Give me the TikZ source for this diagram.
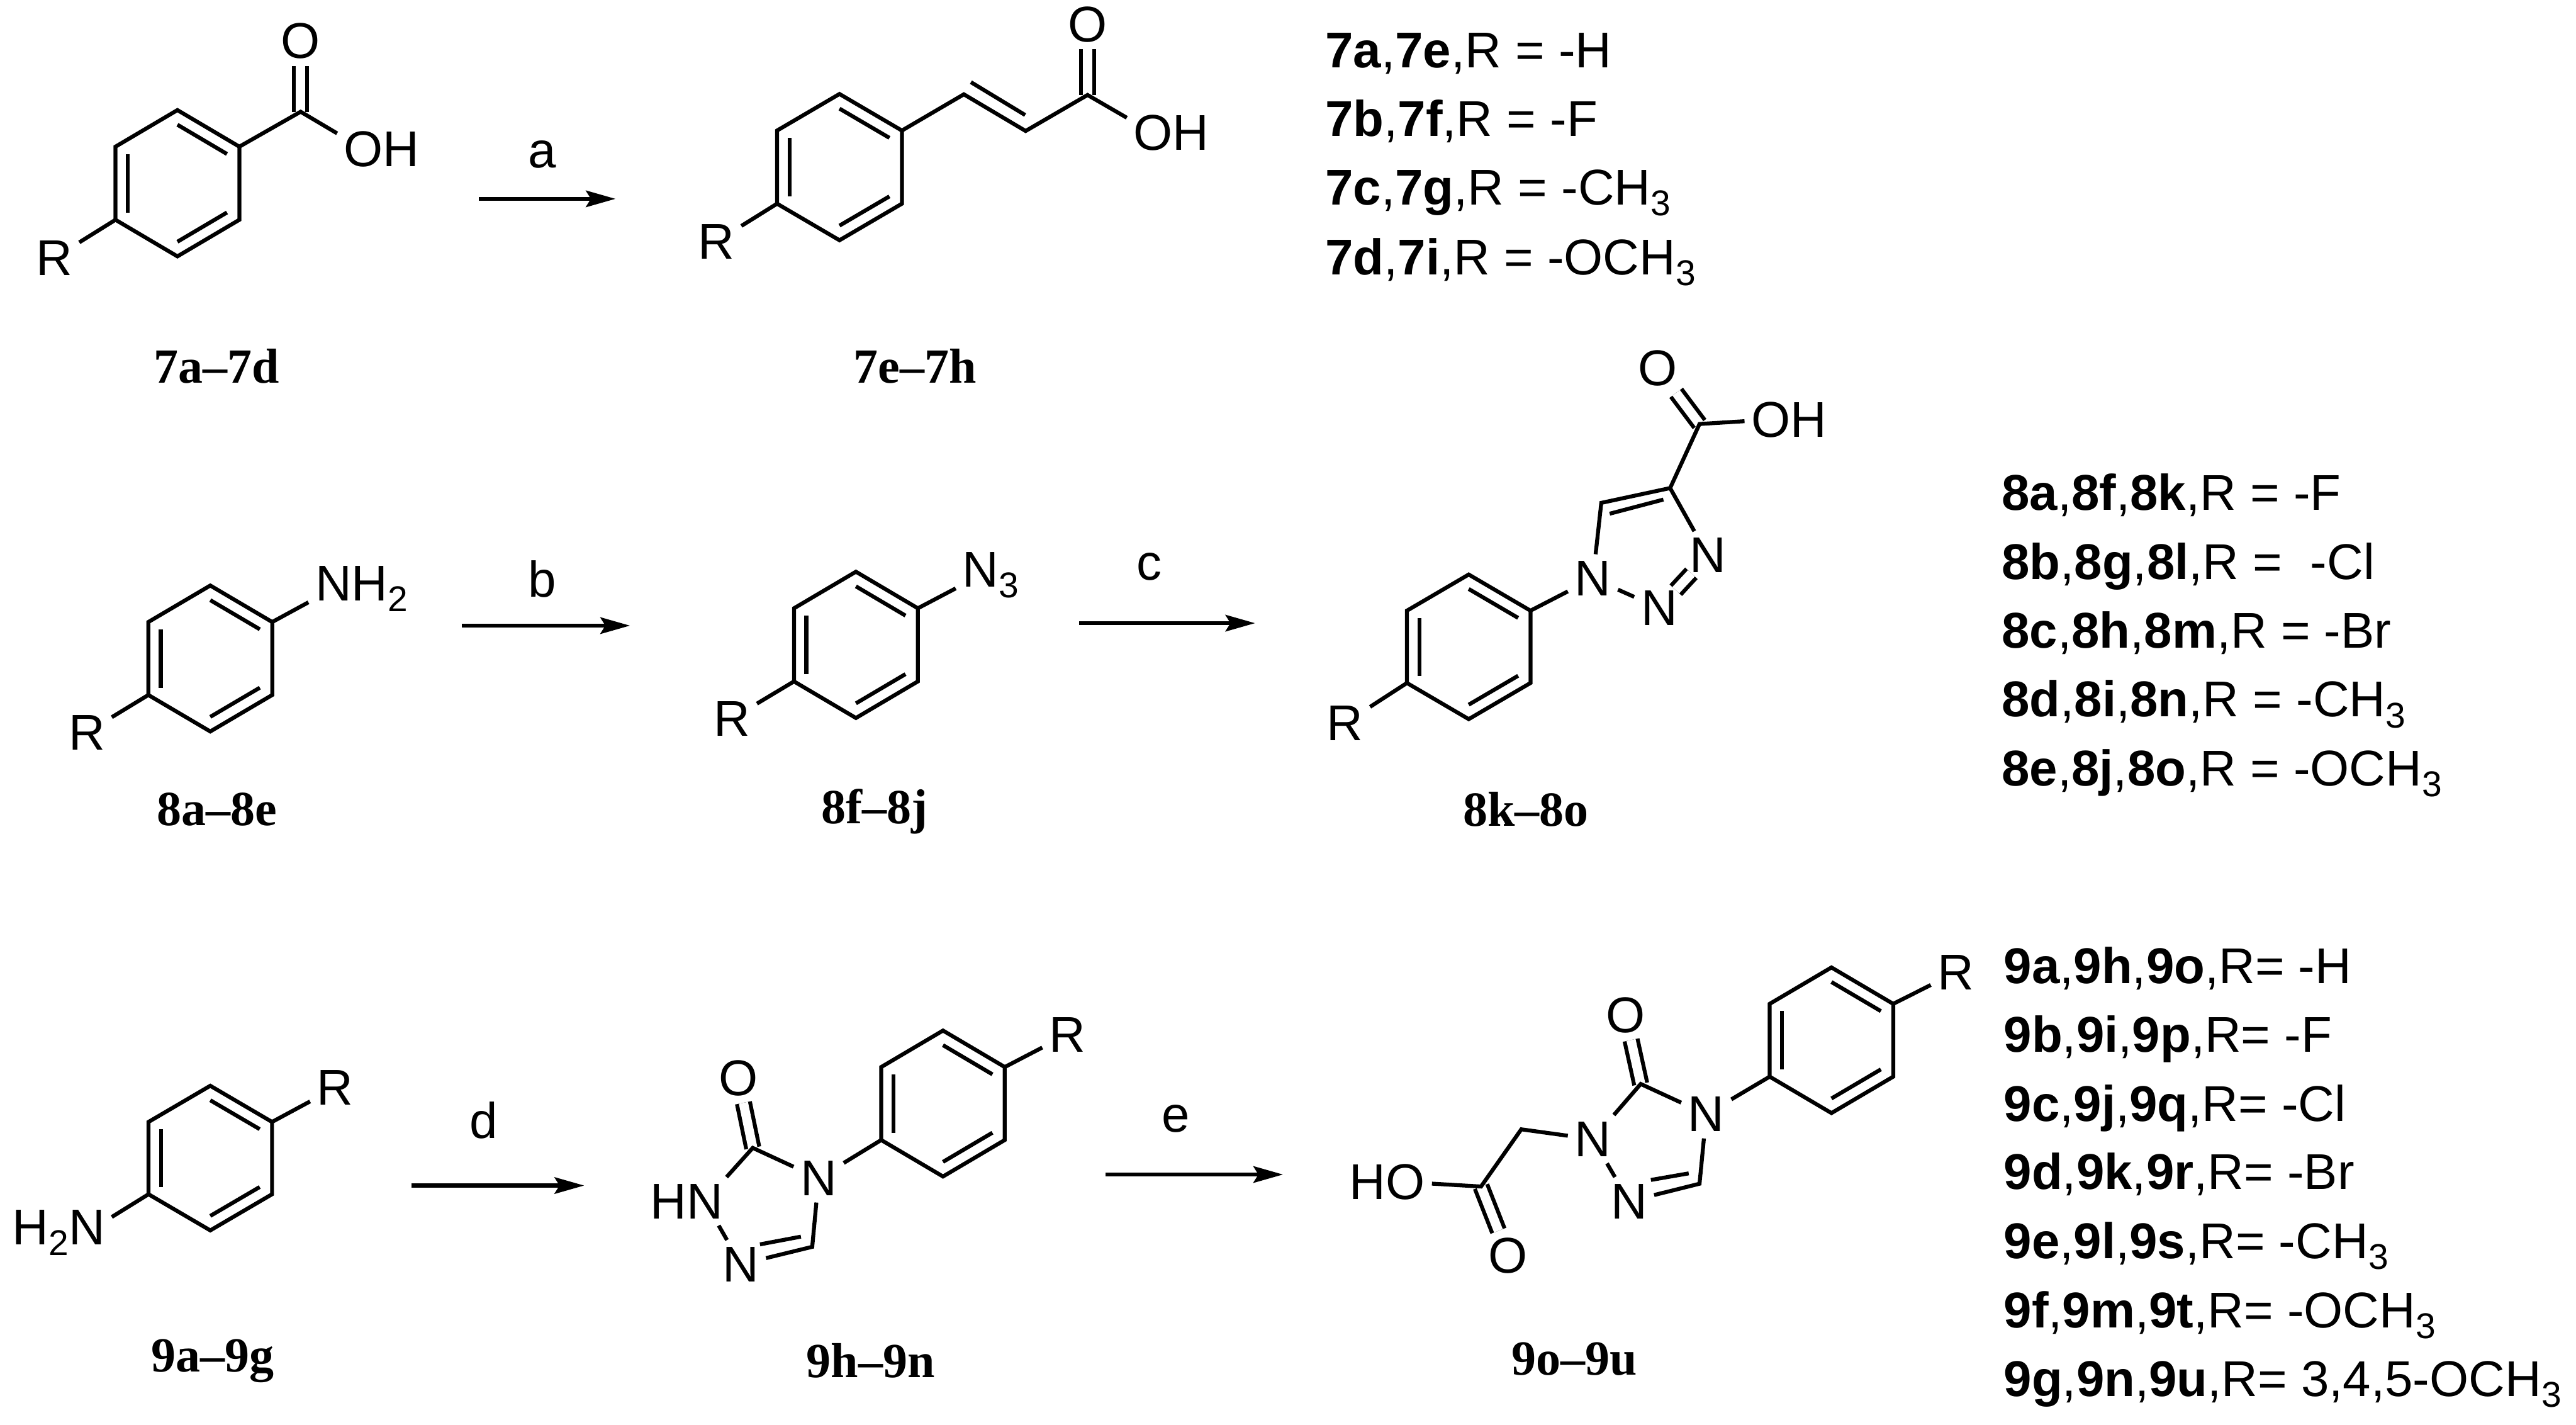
\documentclass[tikz,border=0pt]{standalone}
\usepackage{fontspec}
\setmainfont{Liberation Sans}
\newfontfamily\cmpdfont{Liberation Serif}
\usetikzlibrary{arrows.meta,calc,positioning}
\newcommand{\sbs}[1]{\raisebox{-0.066cm}{\fontsize{6.2}{7}\selectfont #1}}
\begin{document}
\begin{tikzpicture}[x=0.01cm, y=-0.01cm]
    \tikzstyle{every node}=[font=\fontsize{8.7}{10}\selectfont]
    \tikzstyle{atom} = [inner sep=1pt]
    \tikzstyle{bond} = [line width=0.68pt]
    \tikzstyle{dbl} = [line width=0.68pt, double, double distance=1.6pt]
    \tikzstyle{rxn} = [line width=0.68pt, -{Stealth[length=0.18cm, width=0.1cm, inset=0.03cm]}]
    \tikzstyle{cmpd} = [inner sep=0pt, font=\cmpdfont\bfseries\fontsize{8.5}{10}\selectfont]
    \tikzstyle{subst} = [inner sep=0pt, anchor=base west]
    \useasboundingbox (0,0) rectangle (1568,867);

    \foreach \nm/\cx/\cy/\rw/\rh in {7a/108/111.5/37.7/44.5, 7e/511/101.7/38/44.5, 8a/128/400.7/37.7/44.4, 8f/521/392.4/37.7/44.5, 8k/894/393.6/37.6/44, 9a/128/704.7/37.6/44, 9h/574/671.5/37.6/44.4, 9o/1114.8/633/37.6/44.3} {
        \coordinate (\nm c) at (\cx,\cy);
        \coordinate (\nm1) at (\cx,\cy-\rh);
        \coordinate (\nm2) at (\cx+\rw,\cy-0.5*\rh);
        \coordinate (\nm3) at (\cx+\rw,\cy+0.5*\rh);
        \coordinate (\nm4) at (\cx,\cy+\rh);
        \coordinate (\nm5) at (\cx-\rw,\cy+0.5*\rh);
        \coordinate (\nm6) at (\cx-\rw,\cy-0.5*\rh);
        \draw[bond] (\nm1) -- (\nm2) -- (\nm3) -- (\nm4) -- (\nm5) -- (\nm6) -- cycle;
        \foreach \p/\q in {1/2, 3/4, 5/6}
            \draw[bond] ($(\nm\p)!0.2!(\nm c)$) -- ($(\nm\q)!0.2!(\nm c)$);
    }

    \coordinate (c7a) at (183,68);
    \node (o7a) [atom] at (183,25) {O};
    \node (oh7a) [atom] at (221.3,90.7) {O\rlap{H}};
    \node (r7a) [atom] at (33,157) {R};
    \draw[dbl] (c7a) -- (o7a);
    \draw[bond] (7a2) -- (c7a) -- (oh7a);
    \draw[bond] (7a5) -- (r7a);
    \node (l7a) [cmpd] at (132,223) {7a–7d};

    \coordinate (ca7e) at (586.7,57.4);
    \coordinate (cb7e) at (624.3,79.7);
    \coordinate (c7e) at (662,57.8);
    \coordinate (da7e) at (591,50);
    \coordinate (db7e) at (624,70);
    \node (o7e) [atom] at (662,15) {O};
    \node (oh7e) [atom] at (702,81) {O\rlap{H}};
    \node (r7e) [atom] at (436,147) {R};
    \draw[dbl] (c7e) -- (o7e);
    \draw[bond] (7e2) -- (ca7e) -- (cb7e) -- (c7e) -- (oh7e);
    \draw[bond] (da7e) -- (db7e);
    \draw[bond] (7e5) -- (r7e);
    \node (l7e) [cmpd] at (557,223) {7e–7h};

    \coordinate (s1) at (291.6,121);
    \coordinate (e1) at (374.7,121);
    \draw[rxn] (s1) -- (e1);
    \node (ra) [atom] at (330,94) {a};

    \node (l1) [subst] at (806,41) {\textbf{7a},\textbf{7e},R = -H};
    \node (l2) [subst] at (806,83) {\textbf{7b},\textbf{7f},R = -F};
    \node (l3) [subst] at (806,124.5) {\textbf{7c},\textbf{7g},R = -CH\sbs{3}};
    \node (l4) [subst] at (806,167) {\textbf{7d},\textbf{7i},R = -OCH\sbs{3}};

    \node (n8a) [atom] at (203,358.2) {N\rlap{H\sbs{2}}};
    \node (r8a) [atom] at (52.8,445.7) {R};
    \draw[bond] (8a2) -- (n8a);
    \draw[bond] (8a5) -- (r8a);
    \node (l8a) [cmpd] at (132,492.6) {8a–8e};

    \node (n8f) [atom] at (597,350) {N\rlap{\sbs{3}}};
    \node (r8f) [atom] at (445.5,437.3) {R};
    \draw[bond] (8f2) -- (n8f);
    \draw[bond] (8f5) -- (r8f);
    \node (l8f) [cmpd] at (532.5,494) {8f–8j};

    \coordinate (s2) at (281,380.7);
    \coordinate (e2) at (383.5,380.7);
    \draw[rxn] (s2) -- (e2);
    \node (rb) [atom] at (330,352.5) {b};
    \coordinate (s3) at (657,379.2);
    \coordinate (e3) at (764,379.2);
    \draw[rxn] (s3) -- (e3);
    \node (rc) [atom] at (699.5,345) {c};

    \node (n18k) [atom] at (969.6,352) {N};
    \node (n28k) [atom] at (1010,370) {N};
    \node (n38k) [atom] at (1039.6,338) {N};
    \coordinate (c58k) at (974.7,306);
    \coordinate (c48k) at (1016.6,297);
    \coordinate (da8k) at (979.8,312.6);
    \coordinate (db8k) at (1012.5,304);
    \coordinate (c8k) at (1034.5,258);
    \node (o8k) [atom] at (1009,224) {O};
    \node (oh8k) [atom] at (1078,255.3) {O\rlap{H}};
    \node (r8k) [atom] at (818.7,440) {R};
    \draw[dbl] (c8k) -- (o8k);
    \draw[dbl, shorten <=-1.5pt, shorten >=-1.5pt] (n28k) -- (n38k);
    \draw[bond] (8k2) -- (n18k);
    \draw[bond] (n18k) -- (c58k) -- (c48k) -- (n38k);
    \draw[bond] (da8k) -- (db8k);
    \draw[bond] (n18k) -- (n28k);
    \draw[bond] (c48k) -- (c8k) -- (oh8k);
    \draw[bond] (8k5) -- (r8k);
    \node (l8k) [cmpd] at (928.7,492.6) {8k–8o};

    \node (l5) [subst] at (1217.7,310.5) {\textbf{8a},\textbf{8f},\textbf{8k},R = -F};
    \node (l6) [subst] at (1217.7,352.6) {\textbf{8b},\textbf{8g},\textbf{8l},R =\ \ -Cl};
    \node (l7) [subst] at (1217.7,394.4) {\textbf{8c},\textbf{8h},\textbf{8m},R = -Br};
    \node (l8) [subst] at (1217.7,436.2) {\textbf{8d},\textbf{8i},\textbf{8n},R = -CH\sbs{3}};
    \node (l9) [subst] at (1217.7,478) {\textbf{8e},\textbf{8j},\textbf{8o},R = -OCH\sbs{3}};

    \node (n9a) [atom] at (52.8,750) {\llap{H\sbs{2}}N};
    \node (r9a) [atom] at (204,662) {R};
    \draw[bond] (9a5) -- (n9a);
    \draw[bond] (9a2) -- (r9a);
    \node (l9a) [cmpd] at (129.5,828) {9a–9g};

    \coordinate (s4) at (250.6,721.4);
    \coordinate (e4) at (355.6,721.4);
    \draw[rxn] (s4) -- (e4);
    \node (rd) [atom] at (294.6,681.7) {d};

    \coordinate (c39h) at (458.2,698.5);
    \coordinate (c59h) at (494.4,758.7);
    \coordinate (da9h) at (462.6,757.2);
    \coordinate (db9h) at (487.5,752.5);
    \node (o9h) [atom] at (449.4,656) {O};
    \node (n19h) [atom] at (451,769.3) {N};
    \node (n29h) [atom] at (429,731) {\llap{H}N};
    \node (n49h) [atom] at (498.3,717) {N};
    \node (r9h) [atom] at (649.7,629.5) {R};
    \draw[dbl] (c39h) -- (o9h);
    \draw[bond] (n29h) -- (c39h) -- (n49h) -- (c59h) -- (n19h);
    \draw[bond] (n29h) -- (n19h);
    \draw[bond] (da9h) -- (db9h);
    \draw[bond] (9h5) -- (n49h);
    \draw[bond] (9h2) -- (r9h);
    \node (l9h) [cmpd] at (530,828) {9h–9n};

    \coordinate (s5) at (673,714.7);
    \coordinate (e5) at (781,714.7);
    \draw[rxn] (s5) -- (e5);
    \node (re) [atom] at (715.7,680.7) {e};

    \coordinate (c39o) at (998.7,659.6);
    \coordinate (c59o) at (1034.5,720.3);
    \coordinate (da9o) at (1004.9,718);
    \coordinate (db9o) at (1027.9,714);
    \coordinate (ch9o) at (926,687.2);
    \coordinate (c9o) at (901.5,722);
    \node (o9o) [atom] at (989.5,617.8) {O};
    \node (n19o) [atom] at (991.6,731) {N};
    \node (n29o) [atom] at (969.6,693.2) {N};
    \node (n49o) [atom] at (1038.6,678) {N};
    \node (oh9o) [atom] at (855.5,719.3) {\llap{H}O};
    \node (od9o) [atom] at (918,764) {O};
    \node (r9o) [atom] at (1190.5,591.7) {R};
    \draw[dbl] (c39o) -- (o9o);
    \draw[dbl] (c9o) -- (od9o);
    \draw[bond] (n29o) -- (c39o) -- (n49o) -- (c59o) -- (n19o);
    \draw[bond] (n29o) -- (n19o);
    \draw[bond] (da9o) -- (db9o);
    \draw[bond] (n29o) -- (ch9o) -- (c9o) -- (oh9o);
    \draw[bond] (9o5) -- (n49o);
    \draw[bond] (9o2) -- (r9o);
    \node (l9o) [cmpd] at (958.3,827) {9o–9u};

    \node (l10) [subst] at (1219,598.4) {\textbf{9a},\textbf{9h},\textbf{9o},R= -H};
    \node (l11) [subst] at (1219,640) {\textbf{9b},\textbf{9i},\textbf{9p},R= -F};
    \node (l12) [subst] at (1219,682.2) {\textbf{9c},\textbf{9j},\textbf{9q},R= -Cl};
    \node (l13) [subst] at (1219,723.7) {\textbf{9d},\textbf{9k},\textbf{9r},R= -Br};
    \node (l14) [subst] at (1219,765.8) {\textbf{9e},\textbf{9l},\textbf{9s},R= -CH\sbs{3}};
    \node (l15) [subst] at (1219,807.8) {\textbf{9f},\textbf{9m},\textbf{9t},R= -OCH\sbs{3}};
    \node (l16) [subst] at (1219,849.5) {\textbf{9g},\textbf{9n},\textbf{9u},R= 3,4,5-OCH\sbs{3}};
\end{tikzpicture}
\end{document}
